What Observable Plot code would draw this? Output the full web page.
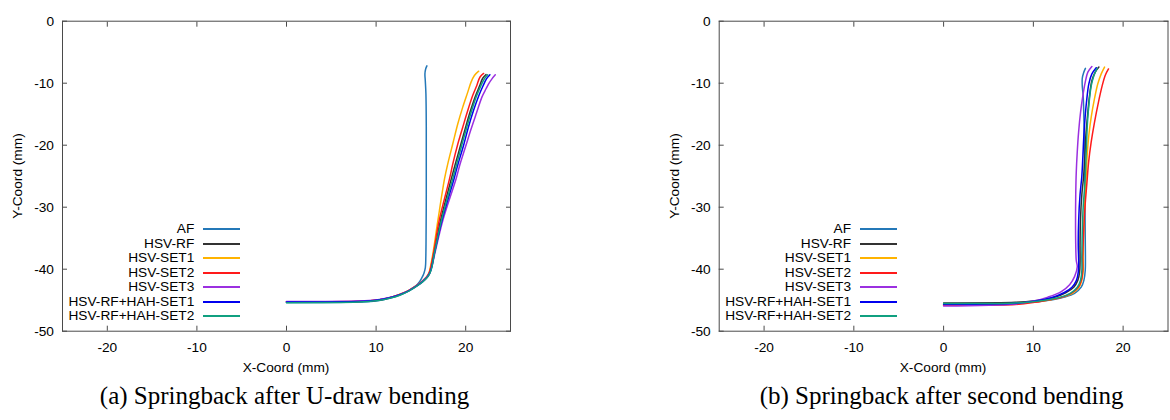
<!DOCTYPE html>
<html>
<head>
<meta charset="utf-8">
<script src="https://cdn.jsdelivr.net/npm/d3@7"></script>
<script src="https://cdn.jsdelivr.net/npm/@observablehq/plot@0.6"></script>
<style>
  html, body { margin: 0; padding: 0; background: #fff; }
  #wrap { position: relative; width: 1170px; height: 420px; overflow: hidden;
          font-family: "Liberation Sans", Arial, sans-serif; color: #000; }
  .panel { position: absolute; top: 0; }
  .lbl { position: absolute; font-size: 13.7px; white-space: nowrap; line-height: 1; }
  .cap { position: absolute; font-family: "Liberation Serif", "Times New Roman", serif;
         font-size: 25px; white-space: nowrap; line-height: 1; transform: translateX(-50%); }
  .leg { position: absolute; font-size: 13.7px; line-height: 1; white-space: nowrap; }
</style>
</head>
<body>
<div id="wrap"></div>
<script>
// ---------- data ----------
const seriesNames = ["AF", "HSV-RF", "HSV-SET1", "HSV-SET2", "HSV-SET3", "HSV-RF+HAH-SET1", "HSV-RF+HAH-SET2"];
const seriesColors = ["#2478b8", "#333333", "#ffb300", "#ff1a1a", "#9b30e0", "#0000ee", "#10a080"];
const xTicks = [-20, -10, 0, 10, 20];
const yTicks = [0, -10, -20, -30, -40, -50];
const xLabel = "X-Coord (mm)";
const yLabel = "Y-Coord (mm)";
const captionA = "(a) Springback after U-draw bending";
const captionB = "(b) Springback after second bending";

// (a) after U-draw bending: [x, y]
const uAF = [[15.67,-7.2],[15.53,-7.7],[15.45,-8.5],[15.49,-9.6],[15.56,-11.7],[15.6,-17],[15.6,-22.4],[15.6,-28],[15.58,-34],[15.55,-38],[15.5,-39.7],[15.35,-40.6],[15.1,-41.4],[14.67,-42.35],[13.7,-43.4],[12.6,-44.2],[11.5,-44.7],[10,-45.15],[8,-45.3],[0,-45.38]];
const uRF = [[22.27,-8.6],[21.9,-9.2],[21.53,-10.5],[21.08,-12.1],[20.52,-14.5],[19.97,-17.2],[19.41,-20.1],[18.85,-23.0],[18.4,-25.4],[17.2,-32.1],[16.45,-37.5],[16.15,-39.7],[15.95,-40.6],[15.65,-41.3],[15.15,-42.0],[14.5,-42.7],[13.6,-43.5],[12.6,-44.1],[11.5,-44.6],[10,-45.0],[8,-45.2],[0,-45.3]];
const uSET1 = [[21.45,-8.06],[20.97,-8.76],[20.6,-9.83],[20.23,-11.44],[19.67,-13.86],[19.12,-16.55],[18.56,-19.77],[18.0,-23.0],[17.64,-25.4],[16.9,-32.1],[16.34,-37.5],[16.05,-39.7],[15.9,-40.6],[15.6,-41.3],[15.1,-42.0],[14.45,-42.7],[13.55,-43.5],[12.55,-44.1],[11.5,-44.6],[10,-45.0],[8,-45.2],[0,-45.3]];
const uSET2 = [[22.0,-8.43],[21.6,-9.0],[21.23,-10.4],[20.78,-12.0],[20.23,-14.4],[19.67,-17.1],[19.12,-19.8],[18.56,-23.0],[18.2,-25.4],[17.05,-32.1],[16.4,-37.5],[16.1,-39.7],[15.92,-40.6],[15.62,-41.3],[15.12,-42.0],[14.47,-42.7],[13.57,-43.5],[12.57,-44.1],[11.5,-44.6],[10,-45.0],[8,-45.18],[0,-45.25]];
const uSET3 = [[23.3,-8.65],[22.93,-9.3],[22.56,-10.1],[22.27,-10.9],[21.82,-12.2],[21.23,-14.7],[20.6,-17.4],[19.97,-20.3],[19.38,-23.0],[18.93,-25.4],[17.45,-32.1],[16.55,-37.5],[16.2,-39.7],[15.98,-40.6],[15.66,-41.3],[15.15,-42.0],[14.5,-42.7],[13.6,-43.5],[12.6,-44.1],[11.5,-44.55],[10,-44.95],[8,-45.12],[0,-45.2]];
const uHAH1 = [[22.7,-8.65],[22.3,-9.35],[21.93,-10.45],[21.45,-12.05],[20.86,-14.45],[20.3,-17.1],[19.75,-20.1],[19.15,-23.0],[18.7,-25.4],[17.35,-32.1],[16.5,-37.5],[16.2,-39.7],[16.0,-40.6],[15.7,-41.3],[15.2,-42.0],[14.55,-42.7],[13.65,-43.5],[12.65,-44.1],[11.55,-44.6],[10,-45.02],[8,-45.22],[0,-45.28]];
const uHAH2 = [[22.45,-8.65],[22.08,-9.3],[21.7,-10.4],[21.23,-12.0],[20.67,-14.4],[20.12,-17.1],[19.56,-20.0],[19.0,-23.0],[18.56,-25.4],[17.3,-32.1],[16.5,-37.5],[16.22,-39.7],[16.02,-40.6],[15.72,-41.3],[15.22,-42.0],[14.58,-42.7],[13.7,-43.5],[12.7,-44.15],[11.6,-44.65],[10,-45.1],[8,-45.3],[0,-45.4]];

// (b) after second bending: [x, y]
const sAF = [[15.8,-7.6],[15.6,-8.3],[15.45,-9.2],[15.45,-10.5],[15.55,-12],[15.62,-15],[15.68,-20],[15.72,-25],[15.75,-30],[15.78,-35],[15.8,-38.5],[15.78,-40.2],[15.63,-41.8],[15.33,-42.9],[14.59,-43.9],[13.48,-44.5],[12.0,-44.95],[10.15,-45.25],[8,-45.5],[0,-45.6]];
const sRF = [[17.3,-7.4],[16.89,-8.2],[16.52,-9.6],[16.26,-12.0],[16.04,-15.2],[15.85,-18.4],[15.74,-21.7],[15.6,-25],[15.4,-28],[15.25,-32],[15.2,-36],[15.2,-39],[15.15,-40.5],[14.95,-41.8],[14.5,-42.9],[13.6,-43.8],[12.2,-44.6],[10.15,-45.1],[8,-45.35],[0,-45.45]];
const sSET1 = [[17.93,-7.4],[17.56,-8.5],[17.18,-10.1],[16.81,-12.5],[16.44,-15.5],[16.18,-18.4],[16.0,-21.6],[15.85,-26],[15.7,-30],[15.6,-34],[15.55,-38],[15.55,-40.3],[15.4,-41.8],[15.1,-42.9],[14.35,-43.9],[13.2,-44.5],[11.8,-44.95],[10.15,-45.25],[8,-45.55],[0,-45.65]];
const sSET2 = [[18.37,-7.7],[18.0,-8.75],[17.67,-10.4],[17.26,-13.0],[16.81,-16.3],[16.44,-19.5],[16.15,-22.8],[15.96,-26.2],[15.75,-30],[15.6,-34],[15.5,-38],[15.5,-40.3],[15.35,-41.8],[15.0,-42.9],[14.2,-43.9],[13.0,-44.6],[11.5,-45.0],[10.15,-45.35],[8,-45.7],[0,-45.8]];
const sSET3 = [[16.52,-7.3],[16.07,-8.22],[15.78,-9.83],[15.52,-11.98],[15.26,-14.67],[15.04,-17.9],[14.89,-21.1],[14.78,-24.35],[14.72,-28],[14.7,-32],[14.72,-36],[14.78,-38.6],[14.89,-39.6],[14.59,-41.2],[14.04,-42.5],[13.11,-43.6],[11.63,-44.5],[10.15,-45.1],[8,-45.6],[0,-45.95]];
const sHAH1 = [[17.0,-7.5],[16.52,-8.5],[16.18,-10.1],[15.96,-12.5],[15.78,-15.2],[15.63,-18.4],[15.52,-21.7],[15.4,-25],[15.2,-28],[15.05,-32],[15.0,-36],[15.05,-39],[15.0,-40.5],[14.8,-41.8],[14.3,-42.9],[13.4,-43.8],[12.0,-44.6],[10.15,-45.15],[8,-45.5],[0,-45.65]];
const sHAH2 = [[17.1,-7.6],[16.75,-8.75],[16.45,-10.4],[16.22,-13.0],[16.03,-16.3],[15.93,-19.6],[15.85,-22.6],[15.75,-26],[15.55,-30],[15.45,-34],[15.4,-38],[15.4,-40.3],[15.25,-41.8],[14.9,-42.9],[14.1,-43.9],[12.8,-44.6],[10.15,-45.2],[8,-45.45],[0,-45.55]];

// ---------- build ----------
const panelA = [uAF, uRF, uSET1, uSET2, uSET3, uHAH1, uHAH2];
const panelB = [sAF, sRF, sSET1, sSET2, sSET3, sHAH1, sHAH2];
const toRows = (arrs) => arrs.flatMap((pts, i) => pts.map(([x, y]) => ({series: seriesNames[i], x, y})));

const W = 585, H = 360, MT = 20.7, MB = 29.3;
const frameColor = "#4a4a4a";

function makePlot(rows, ml, mr) {
  return Plot.plot({
    width: W, height: H,
    marginLeft: ml, marginRight: mr, marginTop: MT, marginBottom: MB,
    style: {fontFamily: '"Liberation Sans", Arial, sans-serif', fontSize: "13.7px", color: "#000", background: "transparent", overflow: "visible"},
    x: {domain: [-25, 25], label: null},
    y: {domain: [-50, 0], label: null},
    color: {domain: seriesNames, range: seriesColors},
    marks: [
      Plot.axisX(xTicks, {anchor: "bottom", tickSize: 0, tickPadding: 11, label: null, tickFormat: d => String(d)}),
      Plot.axisY(yTicks, {anchor: "left", tickSize: 0, tickPadding: 8.5, label: null, tickFormat: d => String(d)}),
      Plot.axisX(xTicks, {anchor: "bottom", tickSize: 5, insetBottom: 5, stroke: frameColor, tickFormat: () => "", label: null}),
      Plot.axisX(xTicks, {anchor: "top", tickSize: 5, insetTop: 5, stroke: frameColor, tickFormat: () => "", label: null}),
      Plot.axisY(yTicks, {anchor: "left", tickSize: 5, insetLeft: 5, stroke: frameColor, tickFormat: () => "", label: null}),
      Plot.axisY(yTicks, {anchor: "right", tickSize: 5, insetRight: 5, stroke: frameColor, tickFormat: () => "", label: null}),
      Plot.line(rows, {x: "x", y: "y", z: "series", stroke: "series", strokeWidth: 1.5, curve: "catmull-rom"}),
      Plot.frame({stroke: frameColor, strokeWidth: 1})
    ]
  });
}

const wrap = document.getElementById("wrap");

function addPanel(rows, left, ml, mr, caption) {
  const div = document.createElement("div");
  div.className = "panel";
  div.style.left = left + "px";
  div.appendChild(makePlot(rows, ml, mr));
  wrap.appendChild(div);

  const fl = left + ml;              // frame left
  const fr = left + W - mr;          // frame right
  const fc = (fl + fr) / 2;

  // x label
  const xl = document.createElement("div");
  xl.className = "lbl";
  xl.textContent = xLabel;
  xl.style.left = fc + "px";
  xl.style.top = "361px";
  xl.style.transform = "translateX(-50%)";
  wrap.appendChild(xl);

  // y label
  const yl = document.createElement("div");
  yl.className = "lbl";
  yl.textContent = yLabel;
  yl.style.left = (fl - 44) + "px";
  yl.style.top = (MT + (H - MT - MB) / 2) + "px";
  yl.style.transform = "translate(-50%, -50%) rotate(-90deg)";
  wrap.appendChild(yl);

  // legend
  seriesNames.forEach((name, i) => {
    const cy = 229.3 + i * 14.45;
    const t = document.createElement("div");
    t.className = "leg";
    t.textContent = name;
    t.style.right = (1170 - (fl + 132.3)) + "px";
    t.style.top = (cy - 7) + "px";
    wrap.appendChild(t);
    const sw = document.createElement("div");
    sw.style.cssText = `position:absolute;left:${Math.round(fl + 141)}px;top:${Math.round(cy - 1)}px;width:37px;height:2px;background:${seriesColors[i]};`;
    wrap.appendChild(sw);
  });

  // caption
  const c = document.createElement("div");
  c.className = "cap";
  c.textContent = caption;
  c.style.left = (fc - 1.5) + "px";
  c.style.top = "383px";
  wrap.appendChild(c);
}

addPanel(toRows(panelA), 0, 62, 75, captionA);
addPanel(toRows(panelB), 585, 133.7, 585 - (1167.5 - 585), captionB);
</script>
</body>
</html>
